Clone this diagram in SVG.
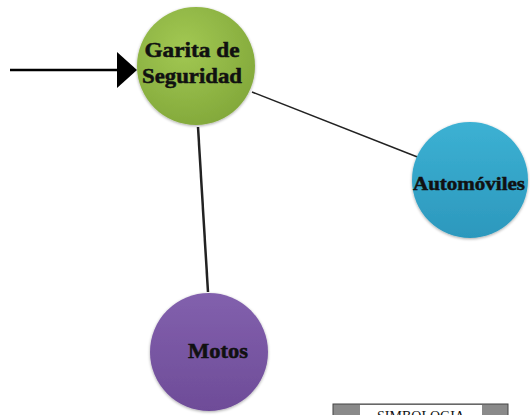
<svg xmlns="http://www.w3.org/2000/svg" width="530" height="415" viewBox="0 0 530 415">
<style>
.lbl{font-family:"Liberation Serif","DejaVu Serif",serif;font-weight:bold;fill:#111;stroke:#111;stroke-width:0.5;text-anchor:middle}
.conn{stroke:#222;fill:none}
</style>
<defs>
<radialGradient id="gG" cx="0.4" cy="0.35" r="0.7">
<stop offset="0" stop-color="#a2c853"/><stop offset="1" stop-color="#82a83a"/>
</radialGradient>
<linearGradient id="gB" x1="0" y1="0" x2="0" y2="1">
<stop offset="0" stop-color="#3cb1d3"/><stop offset="1" stop-color="#2c98bd"/>
</linearGradient>
<linearGradient id="gP" x1="0" y1="0" x2="0" y2="1">
<stop offset="0" stop-color="#8260ad"/><stop offset="1" stop-color="#6e4c98"/>
</linearGradient>
<filter id="sh" x="-20%" y="-20%" width="140%" height="140%">
<feGaussianBlur in="SourceAlpha" stdDeviation="1.5"/>
<feOffset dx="0" dy="1"/>
<feComponentTransfer><feFuncA type="linear" slope="0.35"/></feComponentTransfer>
<feMerge><feMergeNode/><feMergeNode in="SourceGraphic"/></feMerge>
</filter>
</defs>
<g id="connectors">
<line class="conn" x1="252" y1="92" x2="420" y2="158" stroke-width="1.5"/>
<line class="conn" x1="198" y1="127" x2="208" y2="292" stroke-width="2.5"/>
<line x1="10" y1="70" x2="118" y2="70" stroke="#000" stroke-width="2.5"/>
<path d="M117,52 L137,70 L117,88 Z" fill="#000"/>
</g>
<g id="garita">
<circle cx="196" cy="66" r="59" fill="url(#gG)" filter="url(#sh)"/>
<text class="lbl" x="192" y="57" font-size="21" textLength="95" lengthAdjust="spacingAndGlyphs">Garita de</text>
<text class="lbl" x="192" y="83" font-size="21" textLength="100" lengthAdjust="spacingAndGlyphs">Seguridad</text>
</g>
<g id="automoviles">
<circle cx="470" cy="180" r="58" fill="url(#gB)" filter="url(#sh)"/>
<text class="lbl" x="469" y="190" font-size="19" textLength="112" lengthAdjust="spacingAndGlyphs">Automóviles</text>
</g>
<g id="motos">
<circle cx="209" cy="352" r="59" fill="url(#gP)" filter="url(#sh)"/>
<text class="lbl" x="218" y="358" font-size="21" textLength="60" lengthAdjust="spacingAndGlyphs">Motos</text>
</g>
<g id="simbologia">
<rect x="333" y="404" width="175" height="14" fill="#8a8a8a" stroke="#444" stroke-width="1"/>
<rect x="360" y="405" width="122" height="13" fill="#fff"/>
<text x="421" y="421" font-family="Liberation Serif,serif" font-size="14" text-anchor="middle" fill="#111">SIMBOLOGIA</text>
</g>
</svg>
